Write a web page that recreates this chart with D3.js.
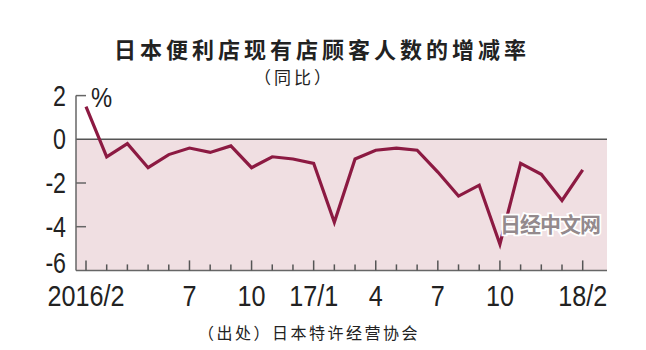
<!DOCTYPE html>
<html>
<head>
<meta charset="utf-8">
<script src="https://cdn.jsdelivr.net/npm/d3@7"></script>
<style>
  body { margin: 0; background: #fff; }
  svg { display: block; }
  .num { font-family: "Liberation Sans", Arial, sans-serif; fill: #222; }
  .cjk { font-family: "Noto Sans CJK SC", sans-serif; fill: #222; }
</style>
</head>
<body>
<svg id="chart"></svg>
<script>
// month labels, 2016/2 .. 2018/2
const months = ["2016/2", "3", "4", "5", "6", "7", "8", "9", "10", "11", "12",
                "17/1", "2", "3", "4", "5", "6", "7", "8", "9", "10", "11", "12",
                "18/1", "18/2"];
// year-on-year change of existing store customers (%)
const values = [1.5, -0.8, -0.2, -1.3, -0.7, -0.4, -0.6, -0.3, -1.3, -0.8, -0.9, -1.1,
                -3.8, -0.9, -0.5, -0.4, -0.5, -1.5, -2.6, -2.1, -4.8, -1.1, -1.6, -2.8, -1.4];
// which months get a label under the axis
const labelIdx = [0, 5, 8, 11, 14, 17, 20, 24];
const yTicks = [2, 0, -2, -4, -6];

const title = "日本便利店现有店顾客人数的增减率";
const subtitle = "（同比）";
const source = "（出处）日本特许经营协会";

var w = 646, h = 350;
var svg = d3.select("#chart").attr("width", w).attr("height", h);

var left = 76, right = 607;
var x = d3.scaleLinear().domain([0, months.length - 1]).range([86, 582.7]);
var y = d3.scaleLinear().domain([-6, 2]).range([270.4, 95.6]);

// pink area below zero
svg.append("rect")
    .attr("x", left)
    .attr("y", y(0))
    .attr("width", right - left)
    .attr("height", y(-6) - y(0))
    .attr("fill", "#f0dfe2");

// zero line
svg.append("line")
    .attr("x1", left).attr("x2", right)
    .attr("y1", y(0)).attr("y2", y(0))
    .attr("stroke", "#555").attr("stroke-width", 1.5);

// bottom axis line
svg.append("line")
    .attr("x1", left).attr("x2", right)
    .attr("y1", y(-6)).attr("y2", y(-6))
    .attr("stroke", "#666").attr("stroke-width", 1.5);

// left axis line
svg.append("line")
    .attr("x1", left).attr("x2", left)
    .attr("y1", y(2)).attr("y2", y(-6))
    .attr("stroke", "#666").attr("stroke-width", 1.5);

// inward y ticks
svg.selectAll(".ytick")
    .data(yTicks.filter(d => d !== 0 && d !== -6))
    .enter()
    .append("line")
    .attr("x1", left).attr("x2", left + 10)
    .attr("y1", d => y(d)).attr("y2", d => y(d))
    .attr("stroke", "#666").attr("stroke-width", 1.5);

// x ticks (longer where labelled)
svg.selectAll(".xtick")
    .data(months)
    .enter()
    .append("line")
    .attr("x1", (d, i) => x(i)).attr("x2", (d, i) => x(i))
    .attr("y1", y(-6))
    .attr("y2", (d, i) => y(-6) - (labelIdx.includes(i) ? 10 : 6))
    .attr("stroke", "#555").attr("stroke-width", 1.5);

// y labels (bottom one nudged up, clear of the month labels)
svg.selectAll(".ylab")
    .data(yTicks)
    .enter()
    .append("text")
    .attr("class", "num")
    .attr("text-anchor", "end")
    .attr("font-size", 29)
    .attr("transform", (d, i) => "translate(66," + (y(d) + (i === yTicks.length - 1 ? 3 : 10)) + ") scale(0.8,1)")
    .text(d => d);

// x labels
svg.selectAll(".xlab")
    .data(labelIdx)
    .enter()
    .append("text")
    .attr("class", "num")
    .attr("text-anchor", "middle")
    .attr("font-size", 30)
    .attr("transform", d => "translate(" + x(d) + ",306) scale(0.84,1)")
    .text(d => months[d]);

// percent sign
svg.append("text")
    .attr("class", "num")
    .attr("font-size", 28)
    .attr("transform", "translate(91,107) scale(0.85,1)")
    .text("%");

// data line
var line = d3.line()
    .x((d, i) => x(i))
    .y(d => y(d));

svg.append("path")
    .datum(values)
    .attr("d", line)
    .attr("fill", "none")
    .attr("stroke", "#8c1a42")
    .attr("stroke-width", 3.2)
    .attr("stroke-linejoin", "miter");

// watermark
svg.append("text")
    .attr("class", "cjk")
    .attr("x", 550)
    .attr("y", 232)
    .attr("text-anchor", "middle")
    .attr("font-size", 21)
    .attr("font-weight", "bold")
    .attr("letter-spacing", -1)
    .style("fill", "#948a8d")
    .style("stroke", "#fff")
    .style("stroke-width", 3.5)
    .style("paint-order", "stroke")
    .text("日经中文网");

// titles
svg.append("text")
    .attr("class", "cjk")
    .attr("x", 322)
    .attr("y", 58)
    .attr("text-anchor", "middle")
    .attr("font-size", 22)
    .attr("font-weight", "bold")
    .attr("letter-spacing", 4)
    .text(title);

svg.append("text")
    .attr("class", "cjk")
    .attr("x", 294)
    .attr("y", 84)
    .attr("text-anchor", "middle")
    .attr("font-size", 17)
    .attr("letter-spacing", 3)
    .text(subtitle);

svg.append("text")
    .attr("class", "cjk")
    .attr("x", 309)
    .attr("y", 339)
    .attr("text-anchor", "middle")
    .attr("font-size", 16)
    .attr("letter-spacing", 2.5)
    .text(source);
</script>
</body>
</html>
